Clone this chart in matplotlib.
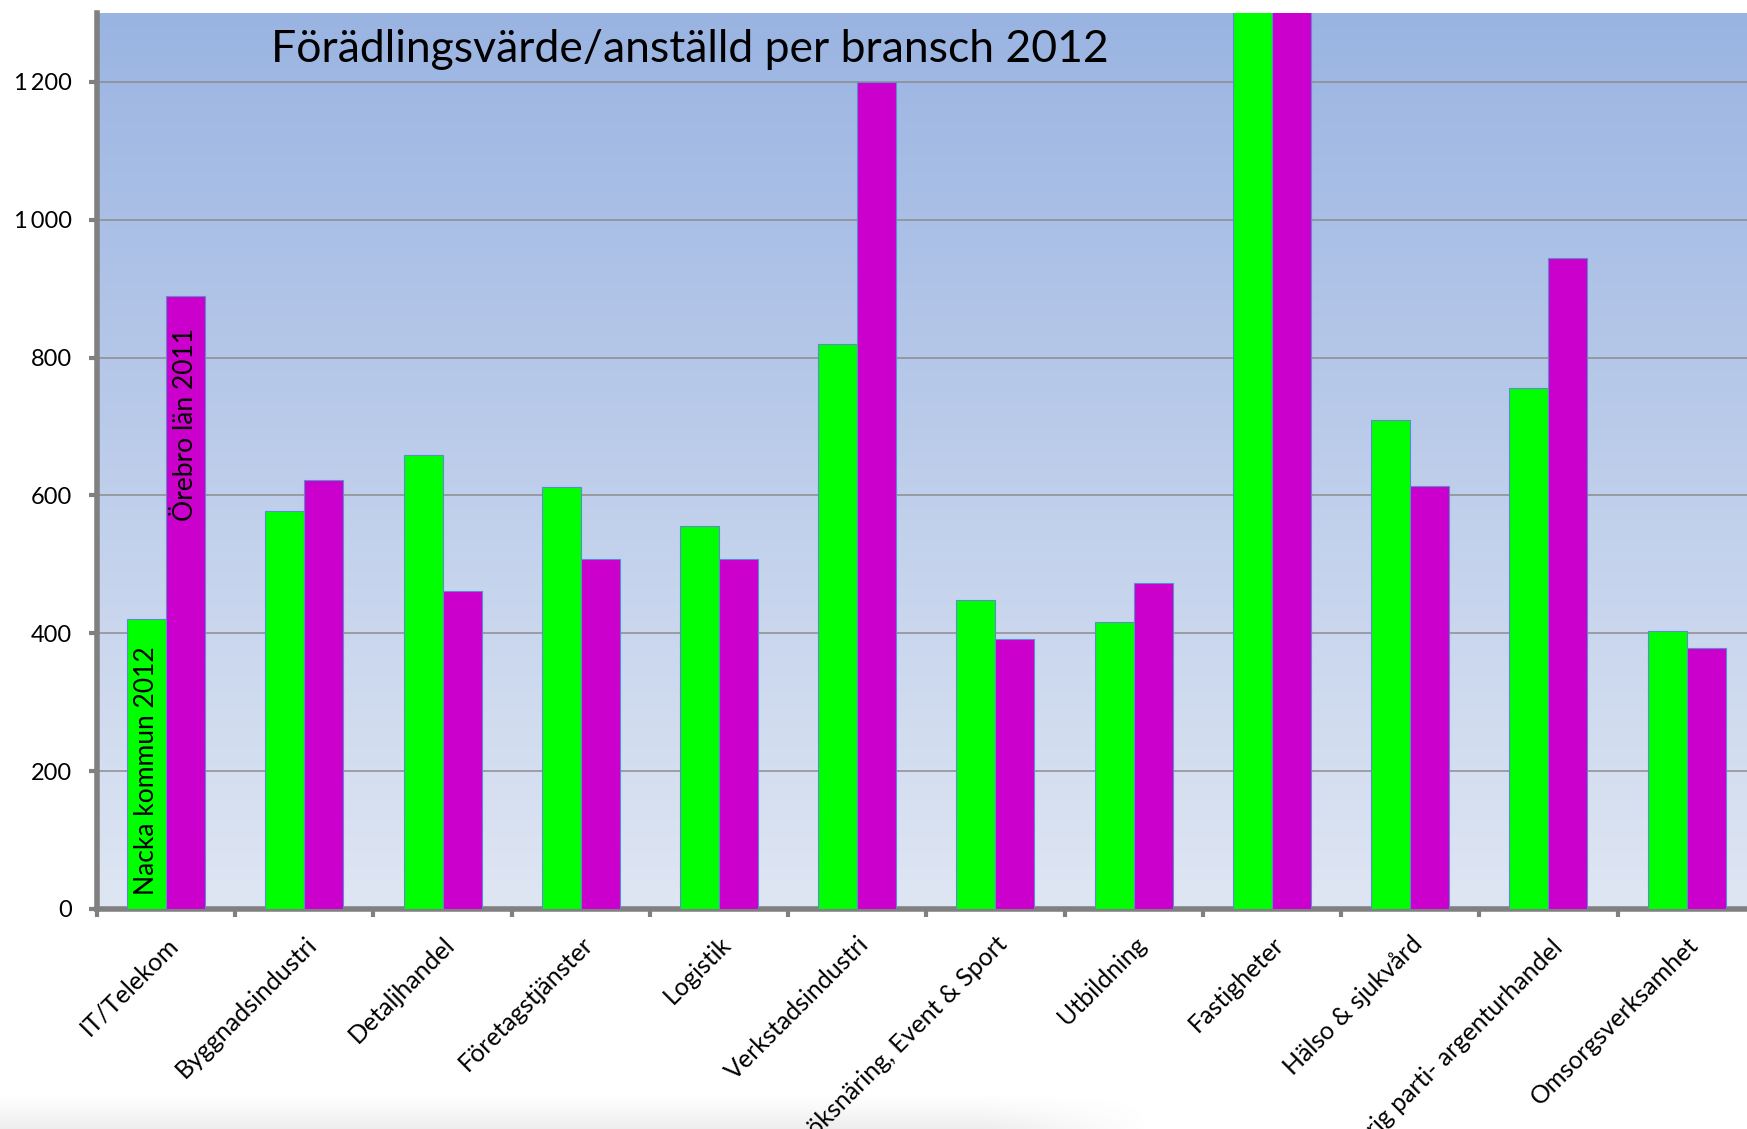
import numpy as np
import matplotlib
matplotlib.use("Agg")
import matplotlib.pyplot as plt
from matplotlib.ticker import FuncFormatter

categories = ["IT/Telekom", "Byggnadsindustri", "Detaljhandel", "Företagstjänster",
              "Logistik", "Verkstadsindustri", "Besöksnäring, Event & Sport",
              "Utbildning", "Fastigheter", "Hälso & sjukvård",
              "Övrig parti- argenturhandel", "Omsorgsverksamhet"]
nacka_2012 = [420, 578, 659, 612, 555, 819, 449, 416, 1500, 709, 756, 403]
orebro_2011 = [889, 622, 462, 508, 508, 1200, 392, 473, 1550, 614, 944, 379]
yticks = [0, 200, 400, 600, 800, 1000, 1200]
title = "Förädlingsvärde/anställd per bransch 2012"

plt.rcParams['font.family'] = ['Lato', 'DejaVu Sans']

fig = plt.figure(figsize=(17.47, 11.29), dpi=100)

# soft grey shadow at the bottom of the picture
sh = fig.add_axes([0, 0, 0.66, 0.032], zorder=0)
ny, nx = 64, 256
vy = np.linspace(0, 1, ny)[:, None]
fx = np.clip((1 - np.linspace(0, 1, nx)) / 0.15, 0, 1)[None, :]
alpha = (vy ** 1.3) * fx * 0.11
rgba = np.zeros((ny, nx, 4))
rgba[..., :3] = 0.35
rgba[..., 3] = alpha
sh.imshow(rgba, aspect='auto', origin='upper', extent=[0, 1, 0, 1])
sh.set_axis_off()

ax = fig.add_axes([0.0555, 0.1949, 0.9495, 0.7936], zorder=1)

# background gradient
top = np.array([154, 180, 226]) / 255
bot = np.array([223, 230, 243]) / 255
t = np.linspace(0, 1, 256)[:, None]
grad = (bot * (1 - t) + top * t)[:, None, :]
ax.imshow(grad, aspect='auto', extent=[0, 1, 0, 1], transform=ax.transAxes,
          origin='lower', zorder=0)

x = np.arange(len(categories))
w = 0.282
ax.bar(x - w / 2, nacka_2012, w, color='#00FF00', edgecolor='#5B8BD0',
       linewidth=0.8, zorder=3)
ax.bar(x + w / 2, orebro_2011, w, color='#CC00CC', edgecolor='#5B8BD0',
       linewidth=0.8, zorder=3)

ax.set_xlim(-0.5, len(categories) - 0.5)
ax.set_ylim(0, 1300)
ax.set_yticks(yticks)
ax.yaxis.set_major_formatter(FuncFormatter(
    lambda v, p: f"{int(v):,}".replace(",", "\u2009")))
ax.yaxis.grid(True, color='#8C8C8C', linewidth=1.1, zorder=1)
ax.set_axisbelow(True)

ax.set_xticks(np.arange(len(categories) + 1) - 0.5)
ax.set_xticklabels([])
ax.set_xticks(x, minor=True)
ax.set_xticklabels(categories, minor=True, rotation=45, ha='right',
                   rotation_mode='anchor', fontsize=18)
ax.tick_params(axis='x', which='minor', length=0, pad=17)
ax.tick_params(axis='x', which='major', length=6, width=3, color='#808080')
ax.tick_params(axis='y', length=6, width=3, color='#808080', labelsize=17, pad=12)

for s in ['top', 'right']:
    ax.spines[s].set_visible(False)
for s in ['left', 'bottom']:
    ax.spines[s].set_color('#808080')
    ax.spines[s].set_linewidth(4)

ax.text(0.105, 0.959, title, transform=ax.transAxes, ha='left', va='center',
        fontsize=32, zorder=5)

ax.text(x[0] - w / 2, 20, "Nacka kommun 2012", rotation=90, ha='center',
        va='bottom', fontsize=19, zorder=5)
ax.text(x[0] + w / 2, 563, "Örebro län 2011", rotation=90, ha='center',
        va='bottom', fontsize=19, zorder=5)

fig.savefig("out.png", dpi=100)
